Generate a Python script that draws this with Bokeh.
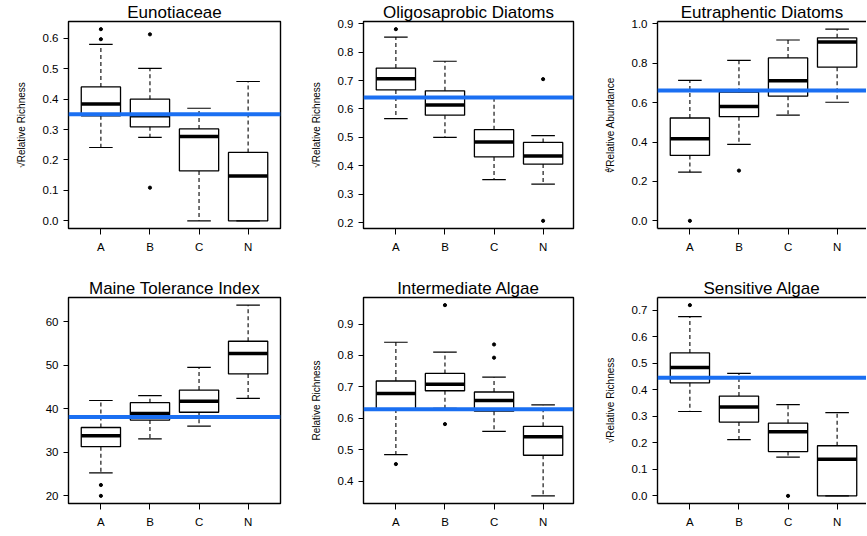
from bokeh.plotting import figure
from bokeh.layouts import column, row
from bokeh.models import (Span, FixedTicker, Range1d, PrintfTickFormatter,
                          LinearAxis, ColumnDataSource)
from bokeh.embed import file_html
from bokeh.resources import INLINE

groups = ["A", "B", "C", "N"]

# Eunotiaceae
eun_low = [0.241, 0.274, 0.0, 0.0]
eun_q1 = [0.345, 0.309, 0.164, 0.0]
eun_med = [0.384, 0.345, 0.277, 0.147]
eun_q3 = [0.440, 0.400, 0.302, 0.225]
eun_high = [0.580, 0.501, 0.370, 0.458]
eun_out_group = ["A", "A", "B", "B"]
eun_out_value = [0.630, 0.597, 0.613, 0.109]
eun_ref = 0.35
eun_ticks = [0.0, 0.1, 0.2, 0.3, 0.4, 0.5, 0.6]

# Oligosaprobic Diatoms
oli_low = [0.566, 0.500, 0.351, 0.335]
oli_q1 = [0.667, 0.578, 0.431, 0.406]
oli_med = [0.706, 0.614, 0.484, 0.434]
oli_q3 = [0.744, 0.664, 0.527, 0.482]
oli_high = [0.853, 0.768, 0.641, 0.506]
oli_out_group = ["A", "N", "N"]
oli_out_value = [0.881, 0.705, 0.206]
oli_ref = 0.64
oli_ticks = [0.2, 0.3, 0.4, 0.5, 0.6, 0.7, 0.8, 0.9]

# Eutraphentic Diatoms
eut_low = [0.247, 0.388, 0.537, 0.602]
eut_q1 = [0.332, 0.529, 0.633, 0.780]
eut_med = [0.417, 0.581, 0.711, 0.908]
eut_q3 = [0.522, 0.653, 0.827, 0.929]
eut_high = [0.713, 0.815, 0.918, 0.973]
eut_out_group = ["A", "B"]
eut_out_value = [0.0, 0.255]
eut_ref = 0.662
eut_ticks = [0.0, 0.2, 0.4, 0.6, 0.8, 1.0]

# Maine Tolerance Index
mti_low = [25.3, 33.1, 36.0, 42.4]
mti_q1 = [31.3, 37.4, 39.2, 48.0]
mti_med = [33.8, 38.9, 41.7, 52.7]
mti_q3 = [35.7, 41.4, 44.3, 55.5]
mti_high = [41.9, 43.0, 49.5, 63.8]
mti_out_group = ["A", "A"]
mti_out_value = [22.5, 20.0]
mti_ref = 38.1
mti_ticks = [20, 30, 40, 50, 60]

# Intermediate Algae
int_low = [0.485, 0.632, 0.559, 0.354]
int_q1 = [0.630, 0.688, 0.623, 0.483]
int_med = [0.679, 0.709, 0.657, 0.542]
int_q3 = [0.719, 0.743, 0.684, 0.575]
int_high = [0.842, 0.811, 0.731, 0.643]
int_out_group = ["A", "B", "B", "C", "C"]
int_out_value = [0.455, 0.960, 0.582, 0.835, 0.793]
int_ref = 0.629
int_ticks = [0.4, 0.5, 0.6, 0.7, 0.8, 0.9]

# Sensitive Algae
sen_low = [0.318, 0.212, 0.146, 0.0]
sen_q1 = [0.426, 0.278, 0.167, 0.0]
sen_med = [0.484, 0.335, 0.242, 0.138]
sen_q3 = [0.539, 0.376, 0.274, 0.189]
sen_high = [0.676, 0.462, 0.344, 0.314]
sen_out_group = ["A", "C"]
sen_out_value = [0.719, 0.0]
sen_ref = 0.445
sen_ticks = [0.0, 0.1, 0.2, 0.3, 0.4, 0.5, 0.6, 0.7]

FONT = "Liberation Sans"
BLUE = "#1a6ff2"
X_START = 0.34
X_SPAN = 4.32      # 0.34 .. 4.66 (R's 4% extension of 0.5..4.5)
BOX_HALF = 0.4
CAP_HALF = 0.24


def make_panel(title, ylabel, low, q1, med, q3, high, out_g, out_v, ref, ticks, fmt,
               bl, fw, br, bt, fh, bb, open_right=False, ref_w=212):
    xs = [groups.index(g) + 1 for g in groups]
    vals = low + q1 + med + q3 + high + out_v
    lo, hi = min(vals), max(vals)
    pad = 0.04 * (hi - lo)
    x_end = X_START + fw * X_SPAN / ref_w
    p = figure(frame_width=fw, frame_height=fh,
               min_border_left=bl, min_border_right=br,
               min_border_top=bt, min_border_bottom=bb,
               x_range=Range1d(X_START, x_end),
               y_range=Range1d(lo - pad, hi + pad),
               output_backend="svg", toolbar_location=None, tools="")
    p.title.text = title
    p.title.align = "center"
    p.title.text_font = FONT
    p.title.text_font_size = "17px"
    p.title.text_font_style = "normal"
    p.title.text_color = "black"
    p.title.standoff = 0

    p.xgrid.grid_line_color = None
    p.ygrid.grid_line_color = None
    p.background_fill_color = "white"
    p.border_fill_color = "white"
    if open_right:
        p.outline_line_color = None
    else:
        p.outline_line_color = "black"
        p.outline_line_width = 1.4

    src = ColumnDataSource(dict(
        x=xs, low=low, q1=q1, med=med, q3=q3, high=high,
        left=[x - BOX_HALF for x in xs], right=[x + BOX_HALF for x in xs],
        cl=[x - CAP_HALF for x in xs], cr=[x + CAP_HALF for x in xs]))

    # whiskers
    p.segment(x0="x", y0="q3", x1="x", y1="high", source=src,
              line_color="black", line_width=1.1, line_dash="4 3")
    p.segment(x0="x", y0="q1", x1="x", y1="low", source=src,
              line_color="black", line_width=1.1, line_dash="4 3")
    # caps
    p.segment(x0="cl", y0="high", x1="cr", y1="high", source=src,
              line_color="black", line_width=1.2)
    p.segment(x0="cl", y0="low", x1="cr", y1="low", source=src,
              line_color="black", line_width=1.2)
    # boxes
    p.quad(left="left", right="right", top="q3", bottom="q1", source=src,
           fill_color=None, line_color="black", line_width=1.3)
    # medians
    p.segment(x0="left", y0="med", x1="right", y1="med", source=src,
              line_color="black", line_width=3.5, line_cap="butt")
    # outliers
    ox = [groups.index(g) + 1 for g in out_g]
    p.scatter(ox, out_v, size=3.2, marker="circle", color="black")

    p.add_layout(Span(location=ref, dimension="width", line_color=BLUE, line_width=4))

    # axes
    xa = p.xaxis[0]
    xa.ticker = FixedTicker(ticks=xs)
    xa.major_label_overrides = {x: g for x, g in zip(xs, groups)}
    xa.major_tick_out = 6
    xa.major_tick_in = 0
    xa.minor_tick_out = 0
    xa.minor_tick_in = 0
    xa.major_label_standoff = 6
    xa.major_label_text_font = FONT
    xa.major_label_text_font_size = "11.5px"
    xa.major_label_text_color = "black"
    xa.major_tick_line_color = "black"

    ya = p.yaxis[0]
    ya.ticker = FixedTicker(ticks=ticks)
    ya.formatter = PrintfTickFormatter(format=fmt)
    ya.major_tick_out = 5
    ya.major_tick_in = 0
    ya.minor_tick_out = 0
    ya.minor_tick_in = 0
    ya.major_label_standoff = 5
    ya.major_label_text_font = FONT
    ya.major_label_text_font_size = "11.5px"
    ya.major_label_text_color = "black"
    ya.major_tick_line_color = "black"
    if ylabel:
        ya.axis_label = ylabel
        ya.axis_label_text_font = FONT
        ya.axis_label_text_font_size = "10px"
        ya.axis_label_text_font_style = "normal"
        ya.axis_label_text_color = "black"
        ya.axis_label_standoff = 13

    if open_right:
        xa.axis_line_color = "black"
        xa.axis_line_width = 1.4
        ya.axis_line_color = "black"
        ya.axis_line_width = 1.4
        top = LinearAxis(ticker=FixedTicker(ticks=[]), major_tick_out=0, major_tick_in=0,
                         minor_tick_out=0, minor_tick_in=0,
                         axis_line_color="black", axis_line_width=1.4)
        p.add_layout(top, "above")
    else:
        xa.axis_line_color = None
        ya.axis_line_color = None
    return p


SQ = "\u221aRelative Richness"

# row / column geometry (pixels)
R1 = dict(bt=21, fh=207, bb=48)
R2 = dict(bt=21, fh=206, bb=32)
C1 = dict(bl=68, fw=212, br=10)
C2 = dict(bl=73, fw=210, br=7)
C3 = dict(bl=77, fw=209, br=0, open_right=True)

p1 = make_panel("Eunotiaceae", SQ, eun_low, eun_q1, eun_med, eun_q3, eun_high,
                eun_out_group, eun_out_value, eun_ref, eun_ticks, "%.1f", **C1, **R1)
p2 = make_panel("Oligosaprobic Diatoms", SQ, oli_low, oli_q1, oli_med, oli_q3, oli_high,
                oli_out_group, oli_out_value, oli_ref, oli_ticks, "%.1f", **C2, **R1)
p3 = make_panel("Eutraphentic Diatoms", "\u221cRelative Abundance", eut_low, eut_q1, eut_med,
                eut_q3, eut_high, eut_out_group, eut_out_value, eut_ref, eut_ticks, "%.1f",
                **C3, **R1)
p4 = make_panel("Maine Tolerance Index", None, mti_low, mti_q1, mti_med, mti_q3, mti_high,
                mti_out_group, mti_out_value, mti_ref, mti_ticks, "%d", **C1, **R2)
p5 = make_panel("Intermediate Algae", "Relative Richness", int_low, int_q1, int_med, int_q3,
                int_high, int_out_group, int_out_value, int_ref, int_ticks, "%.1f", **C2, **R2)
p6 = make_panel("Sensitive Algae", SQ, sen_low, sen_q1, sen_med, sen_q3, sen_high,
                sen_out_group, sen_out_value, sen_ref, sen_ticks, "%.1f", **C3, **R2)

layout = column(row(p1, p2, p3, spacing=0), row(p4, p5, p6, spacing=0), spacing=0)

open("out.html", "w").write(file_html(layout, INLINE))
